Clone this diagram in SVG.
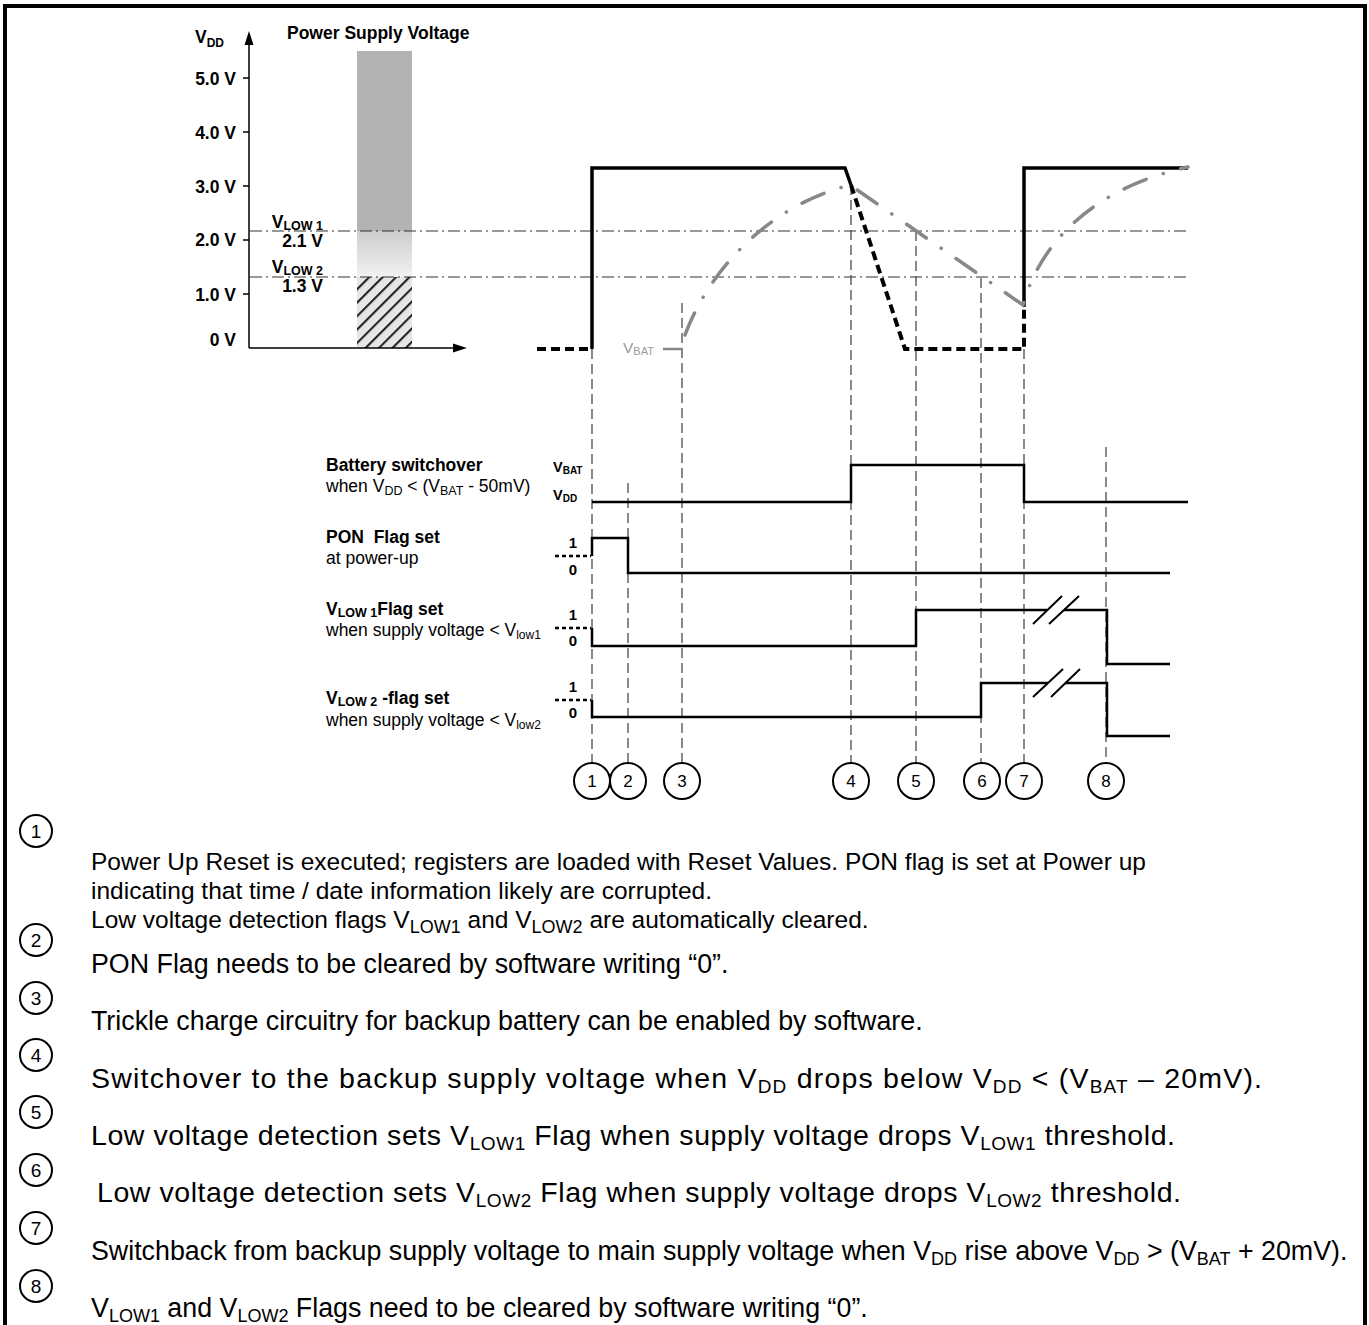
<svg xmlns="http://www.w3.org/2000/svg" width="1369" height="1325" viewBox="0 0 1369 1325">
<style>
text{font-family:"Liberation Sans",Arial,sans-serif;fill:#000}
.lab{font-size:17.5px;font-weight:bold}
.desc{font-size:17.5px}
.tick{font-size:17.5px;font-weight:bold;text-anchor:end}
.lvl{font-size:14.5px;font-weight:bold}
.lvlc{font-size:15px;font-weight:bold;text-anchor:middle}
.num{font-size:17px;text-anchor:middle}
.note{font-size:24.5px}
.note2{font-size:26.8px}
.note3{font-size:28.5px}
.s{font-size:18px}
.s3{font-size:19px}
.nnum{font-size:19px;text-anchor:middle}
.sig{fill:none;stroke:#000;stroke-width:2.5}
.slash{fill:none;stroke:#000;stroke-width:2}
.guide{fill:none;stroke:#4a4a4a;stroke-width:1.3;stroke-dasharray:10 5}
.thr{fill:none;stroke:#333;stroke-width:1.1;stroke-dasharray:12 4 2 4}
.vdd{fill:none;stroke:#000;stroke-width:3.5}
.vddoff{fill:none;stroke:#000;stroke-width:4;stroke-dasharray:9 5}
.vbat{fill:none;stroke:#888;stroke-width:3.5;stroke-dasharray:24 18 0.1 18;stroke-linecap:round}
.circ{fill:#fff;stroke:#000;stroke-width:2}
.lvldot{fill:none;stroke:#000;stroke-width:2.5;stroke-dasharray:4 3}
.axis{fill:none;stroke:#000;stroke-width:1.5}
</style>
<defs>
<pattern id="hatch" width="9.5" height="9.5" patternUnits="userSpaceOnUse" patternTransform="rotate(45)">
<rect width="9.5" height="9.5" fill="#e6e6e6"/>
<line x1="1" y1="0" x2="1" y2="9.5" stroke="#222" stroke-width="2.2"/>
</pattern>
<linearGradient id="stip" x1="0" y1="0" x2="0" y2="1">
<stop offset="0" stop-color="#cdcdcd"/>
<stop offset="1" stop-color="#f2f2f2"/>
</linearGradient>
</defs>

<rect width="1369" height="1325" fill="#fff"/>
<path d="M5,1325 V6 H1365 V1325" fill="none" stroke="#000" stroke-width="4"/>

<g id="voltage-scale">
<rect x="357" y="51" width="55" height="180" fill="#b3b3b3"/>
<rect x="357" y="231" width="55" height="46" fill="url(#stip)"/>
<rect x="357" y="277" width="55" height="71" fill="url(#hatch)"/>
<path class="axis" d="M249,348 V42 M249,348 H455 M243,78 H249 M243,132 H249 M243,186 H249 M243,240 H249 M243,294 H249"/>
<polygon points="249,31 244.5,45 253.5,45" fill="#000"/>
<polygon points="467,348 453,343.5 453,352.5" fill="#000"/>
<text class="lab" x="195" y="43">V<tspan font-size="12" dy="4">DD</tspan></text>
<text class="lab" x="287" y="39">Power Supply Voltage</text>
<text class="tick" x="236" y="85">5.0 V</text>
<text class="tick" x="236" y="139">4.0 V</text>
<text class="tick" x="236" y="193">3.0 V</text>
<text class="tick" x="236" y="246">2.0 V</text>
<text class="tick" x="236" y="301">1.0 V</text>
<text class="tick" x="236" y="346">0 V</text>
<text class="tick" x="323" y="228">V<tspan font-size="12.5" dy="2">LOW 1</tspan></text>
<text class="tick" x="323" y="247">2.1 V</text>
<text class="tick" x="323" y="273">V<tspan font-size="12.5" dy="2">LOW 2</tspan></text>
<text class="tick" x="323" y="292">1.3 V</text>
</g>

<g id="thresholds">
<path class="thr" d="M250,231 H1187 M250,277 H1187"/>
</g>

<g id="connectors">
<path class="guide" d="M592,349 V763 M628,483 V763 M682,303 V763 M851,185 V763 M916,231 V763 M981,278 V763 M1024,349 V763 M1106,447 V763"/>
</g>

<g id="vdd-waveform">
<path class="vddoff" d="M537,349 H590"/>
<path class="vdd" d="M592,349 V168 H845 L851,185"/>
<path class="vddoff" d="M851,185 L905,349 H1024 V308"/>
<path class="vdd" d="M1024,307 V168 H1188"/>
</g>
<g id="vbat-waveform">
<path class="vbat" d="M685,335 C705,280 760,208 850,185 L1023,305 C1038,250 1085,190 1188,167"/>
<path d="M663,349 H682" stroke="#888" stroke-width="2.5" fill="none"/>
<text x="623" y="353" font-size="15.5" style="fill:#999">V<tspan font-size="11" dy="2">BAT</tspan></text>
</g>

<g id="battery-switchover">
<text class="lab" x="326" y="471">Battery switchover</text>
<text class="desc" x="326" y="492">when V<tspan font-size="12.5" dy="3">DD</tspan><tspan dy="-3"> &lt; (V</tspan><tspan font-size="12.5" dy="3">BAT</tspan><tspan dy="-3"> - 50mV)</tspan></text>
<text class="lvl" x="553" y="472">V<tspan font-size="10" dy="2">BAT</tspan></text>
<text class="lvl" x="553" y="500">V<tspan font-size="10" dy="2">DD</tspan></text>
<path class="sig" d="M592,502 H851 V465 H1024 V502 H1188"/>
</g>

<g id="pon-flag">
<text class="lab" x="326" y="543">PON&#160; Flag set</text>
<text class="desc" x="326" y="564">at power-up</text>
<text class="lvlc" x="573" y="548">1</text>
<text class="lvlc" x="573" y="575">0</text>
<path class="lvldot" d="M555,556 H591"/>
<path class="sig" d="M592,556 V538 H628 V573 H1170"/>
</g>

<g id="vlow1-flag">
<text class="lab" x="326" y="615">V<tspan font-size="12.5" dy="2">LOW 1</tspan><tspan dy="-2">Flag set</tspan></text>
<text class="desc" x="326" y="636">when supply voltage &lt; V<tspan font-size="12" dy="3">low1</tspan></text>
<text class="lvlc" x="573" y="620">1</text>
<text class="lvlc" x="573" y="646">0</text>
<path class="lvldot" d="M555,628 H591"/>
<path class="sig" d="M592,628 V646 H916 V610 H1047 M1064,610 H1107 V664 H1170"/>
<path class="slash" d="M1033,624 L1062,596 M1049,624 L1079,596"/>
</g>

<g id="vlow2-flag">
<text class="lab" x="326" y="704">V<tspan font-size="12.5" dy="2">LOW 2</tspan><tspan dy="-2"> -flag set</tspan></text>
<text class="desc" x="326" y="726">when supply voltage &lt; V<tspan font-size="12" dy="3">low2</tspan></text>
<text class="lvlc" x="573" y="692">1</text>
<text class="lvlc" x="573" y="718">0</text>
<path class="lvldot" d="M555,700 H591"/>
<path class="sig" d="M592,700 V717 H981 V683 H1048 M1065,683 H1107 V736 H1170"/>
<path class="slash" d="M1033,697 L1063,669 M1051,697 L1080,669"/>
</g>

<g id="markers">
<circle class="circ" cx="592" cy="781" r="18"/><text class="num" x="592" y="787">1</text>
<circle class="circ" cx="628" cy="781" r="18"/><text class="num" x="628" y="787">2</text>
<circle class="circ" cx="682" cy="781" r="18"/><text class="num" x="682" y="787">3</text>
<circle class="circ" cx="851" cy="781" r="18"/><text class="num" x="851" y="787">4</text>
<circle class="circ" cx="916" cy="781" r="18"/><text class="num" x="916" y="787">5</text>
<circle class="circ" cx="982" cy="781" r="18"/><text class="num" x="982" y="787">6</text>
<circle class="circ" cx="1024" cy="781" r="18"/><text class="num" x="1024" y="787">7</text>
<circle class="circ" cx="1106" cy="781" r="18"/><text class="num" x="1106" y="787">8</text>
</g>

<g id="notes">
<circle class="circ" cx="36" cy="831" r="16"/><text class="nnum" x="36" y="838">1</text>
<text class="note" x="91" y="870">Power Up Reset is executed; registers are loaded with Reset Values. PON flag is set at Power up</text>
<text class="note" x="91" y="899">indicating that time / date information likely are corrupted.</text>
<text class="note" x="91" y="928">Low voltage detection flags V<tspan class="s" dy="5">LOW1</tspan><tspan dy="-5"> and V</tspan><tspan class="s" dy="5">LOW2</tspan><tspan dy="-5"> are automatically cleared.</tspan></text>

<circle class="circ" cx="36" cy="940" r="16"/><text class="nnum" x="36" y="947">2</text>
<text class="note2" x="91" y="973">PON Flag needs to be cleared by software writing “0”.</text>

<circle class="circ" cx="36" cy="998" r="16"/><text class="nnum" x="36" y="1005">3</text>
<text class="note2" x="91" y="1030">Trickle charge circuitry for backup battery can be enabled by software.</text>

<circle class="circ" cx="36" cy="1055" r="16"/><text class="nnum" x="36" y="1062">4</text>
<text class="note3" x="91" y="1088" textLength="1171" lengthAdjust="spacing">Switchover to the backup supply voltage when V<tspan class="s3" dy="5">DD</tspan><tspan dy="-5"> drops below V</tspan><tspan class="s3" dy="5">DD</tspan><tspan dy="-5"> &lt; (V</tspan><tspan class="s3" dy="5">BAT</tspan><tspan dy="-5"> – 20mV).</tspan></text>

<circle class="circ" cx="36" cy="1112" r="16"/><text class="nnum" x="36" y="1119">5</text>
<text class="note3" x="91" y="1145" textLength="1084" lengthAdjust="spacing">Low voltage detection sets V<tspan class="s3" dy="5">LOW1</tspan><tspan dy="-5"> Flag when supply voltage drops V</tspan><tspan class="s3" dy="5">LOW1</tspan><tspan dy="-5"> threshold.</tspan></text>

<circle class="circ" cx="36" cy="1170" r="16"/><text class="nnum" x="36" y="1177">6</text>
<text class="note3" x="97" y="1202" textLength="1084" lengthAdjust="spacing">Low voltage detection sets V<tspan class="s3" dy="5">LOW2</tspan><tspan dy="-5"> Flag when supply voltage drops V</tspan><tspan class="s3" dy="5">LOW2</tspan><tspan dy="-5"> threshold.</tspan></text>

<circle class="circ" cx="36" cy="1228" r="16"/><text class="nnum" x="36" y="1235">7</text>
<text class="note2" x="91" y="1260">Switchback from backup supply voltage to main supply voltage when V<tspan class="s" dy="5">DD</tspan><tspan dy="-5"> rise above V</tspan><tspan class="s" dy="5">DD</tspan><tspan dy="-5"> &gt; (V</tspan><tspan class="s" dy="5">BAT</tspan><tspan dy="-5"> + 20mV).</tspan></text>

<circle class="circ" cx="36" cy="1286" r="16"/><text class="nnum" x="36" y="1293">8</text>
<text class="note2" x="91" y="1317">V<tspan class="s" dy="5">LOW1</tspan><tspan dy="-5"> and V</tspan><tspan class="s" dy="5">LOW2</tspan><tspan dy="-5"> Flags need to be cleared by software writing “0”.</tspan></text>
</g>
</svg>
